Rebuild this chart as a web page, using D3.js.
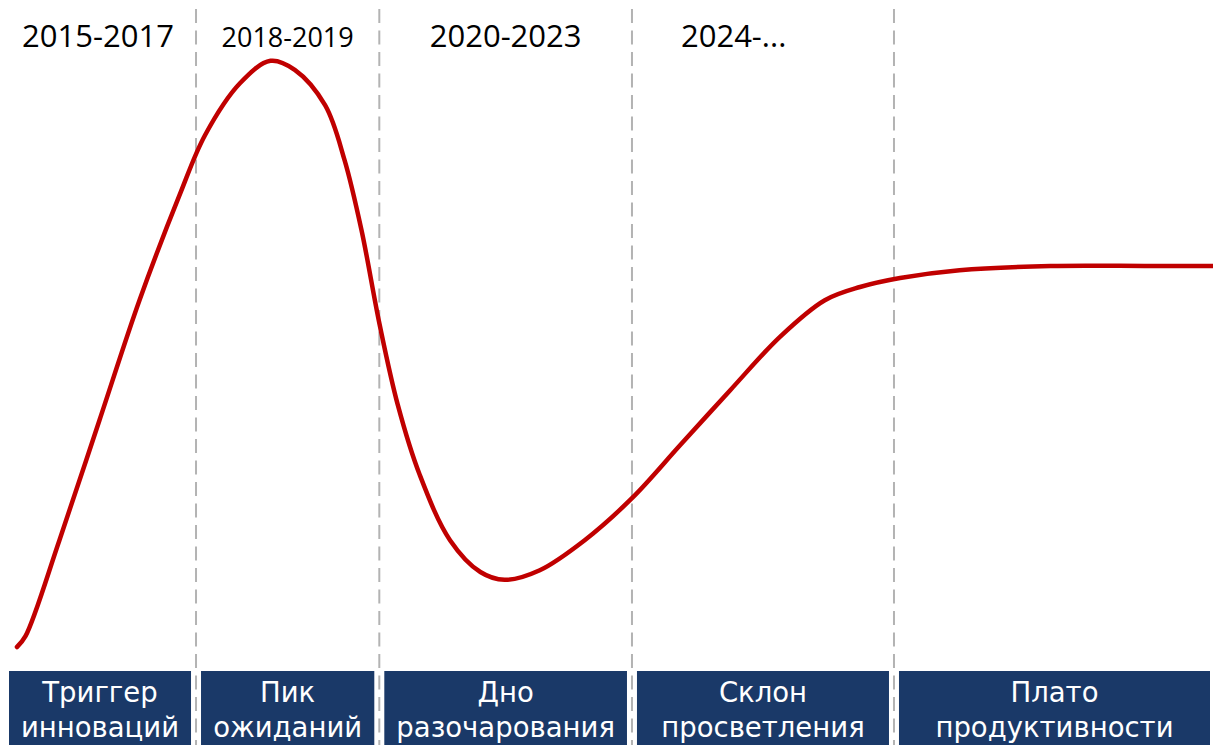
<!DOCTYPE html>
<html>
<head>
<meta charset="utf-8">
<script src="https://cdnjs.cloudflare.com/ajax/libs/d3/7.9.0/d3.min.js"></script>
<style>
  html, body { margin: 0; padding: 0; background: #fff; }
  svg { display: block; }
</style>
</head>
<body>
<div id="root"></div>
<script>
// Hype cycle — phases, periods and the curve (x: time 0..100, y: expectations 0..100)
const phases = [
  ['Триггер', 'инноваций'],
  ['Пик', 'ожиданий'],
  ['Дно', 'разочарования'],
  ['Склон', 'просветления'],
  ['Плато', 'продуктивности']
];
const periods = ['2015-2017', '2018-2019', '2020-2023', '2024-...', ''];
const bounds = [0, 16.16, 31.27, 52.1, 73.7, 100];

const curveX = [1.4, 2.1, 4.9, 8.2, 11.5, 14.8, 16.9, 19.8, 22.3, 24.3, 26.8, 28.4, 29.8, 31.3, 32.8, 34.6,
  37.1, 39.6, 41.6, 44.5, 48.2, 52.1, 56.1, 60.2, 64.3, 68.0, 70.9, 74.2, 79.1, 86.6, 94.8, 100];
const curveY = [0.5, 2.3, 18.3, 38.3, 58.3, 75.8, 85.8, 94.5, 98.2, 96.7, 90.8, 81.7, 70.0, 54.2, 40.8, 29.2,
  18.3, 13.0, 11.7, 13.3, 18.3, 25.3, 34.2, 43.3, 52.2, 58.3, 60.5, 62.0, 63.3, 64.0, 64.0, 64.0];

(function () {
  const width = 1213, height = 745;

  const svg = d3.select('#root').append('svg')
    .attr('width', width)
    .attr('height', height);

  const x = d3.scaleLinear().domain([0, 100]).range([0, width]);
  const y = d3.scaleLinear().domain([0, 100]).range([650, 50]);

  // dashed dividers between phases
  svg.append('g')
    .selectAll('line')
    .data(bounds.slice(1, -1))
    .join('line')
    .attr('x1', d => x(d)).attr('x2', d => x(d))
    .attr('y1', 9).attr('y2', height)
    .attr('stroke', '#b3b3b3')
    .attr('stroke-width', 2)
    .attr('stroke-dasharray', '14,7.5');

  // period labels on top
  svg.append('g')
    .selectAll('text')
    .data(periods)
    .join('text')
    .attr('x', (d, i) => i === 3 ? x(bounds[i]) + 49 : (x(bounds[i]) + x(bounds[i + 1])) / 2)
    .attr('y', 47)
    .attr('text-anchor', (d, i) => i === 3 ? 'start' : 'middle')
    .attr('font-family', 'Open Sans, sans-serif')
    .attr('font-size', (d, i) => i === 1 ? 27 : 31)
    .attr('fill', '#000')
    .text(d => d);

  // curve
  const pts = curveX.map((v, i) => [v, curveY[i]]);
  const line = d3.line()
    .x(d => x(d[0]))
    .y(d => y(d[1]))
    .curve(d3.curveCatmullRom.alpha(0.5));

  svg.append('path')
    .datum(pts)
    .attr('d', line)
    .attr('fill', 'none')
    .attr('stroke', '#c00000')
    .attr('stroke-width', 4.5)
    .attr('stroke-linecap', 'round')
    .attr('stroke-linejoin', 'round');

  // phase boxes at the bottom
  const box = svg.append('g')
    .selectAll('g')
    .data(phases)
    .join('g');

  const boxX0 = i => i === 0 ? 9 : x(bounds[i]) + 5;
  const boxX1 = i => i === phases.length - 1 ? width - 3 : x(bounds[i + 1]) - 5;

  box.append('rect')
    .attr('x', (d, i) => boxX0(i))
    .attr('y', 671)
    .attr('width', (d, i) => boxX1(i) - boxX0(i))
    .attr('height', 80)
    .attr('fill', '#1a3968');

  box.each(function (d, i) {
    const cx = (boxX0(i) + boxX1(i)) / 2;
    d3.select(this).selectAll('text')
      .data(d)
      .join('text')
      .attr('x', cx)
      .attr('y', (t, j) => 702 + j * 35)
      .attr('text-anchor', 'middle')
      .attr('font-family', 'DejaVu Sans, sans-serif')
      .attr('font-size', 27.5)
      .attr('fill', '#fff')
      .text(t => t);
  });
})();
</script>
</body>
</html>
